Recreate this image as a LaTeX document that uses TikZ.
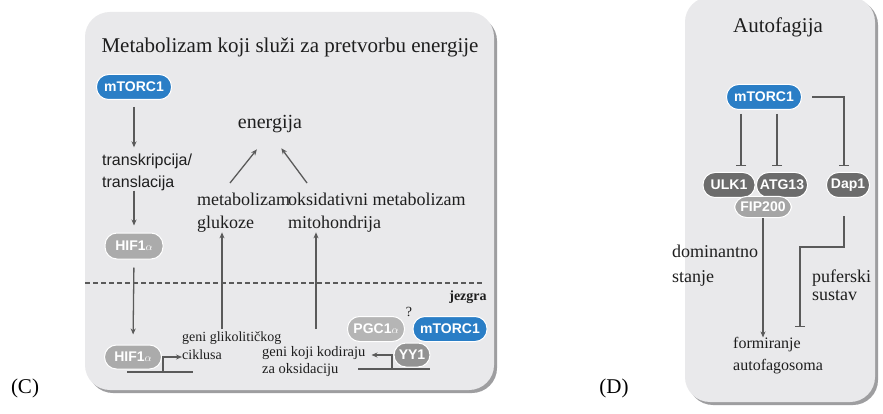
\documentclass[tikz,border=0pt]{standalone}
\usepackage{fontspec}
\setmainfont{Liberation Serif}
\newfontfamily\pillfont{Liberation Sans}
\newfontfamily\lblsans{Liberation Sans}
\usetikzlibrary{arrows.meta}
\definecolor{panelbg}{HTML}{E9E9EB}
\definecolor{shadowc}{HTML}{9E9EA0}
\definecolor{mblue}{HTML}{2A7EC6}
\definecolor{hifgray}{HTML}{ABABAB}
\definecolor{dkgray}{HTML}{6C6C6C}
\definecolor{fipgray}{HTML}{A5A5A5}
\definecolor{pgcgray}{HTML}{B5B5B5}
\definecolor{yygray}{HTML}{939393}
\definecolor{linec}{HTML}{5A5A5A}
\definecolor{textc}{HTML}{1E1E1E}
\begin{document}
\begin{tikzpicture}[x=1pt,y=-1pt,
  pill/.style={rectangle, rounded corners=12pt, minimum height=25pt, inner sep=0pt,
    text=white, font=\pillfont\bfseries\fontsize{14}{14}\selectfont, draw=white, line width=1pt},
  bluepill/.style={pill, fill=mblue},
  arr/.style={draw=linec, line width=1.3pt, -{Stealth[length=6pt,width=5pt]}},
  inh/.style={draw=linec, line width=1.3pt, -{Bar[width=10pt,line width=1.3pt]}},
  plain/.style={draw=linec, line width=1.3pt},
  lbl/.style={inner sep=0pt, text=textc, align=left},
  ttl/.style={inner sep=0pt, text=textc, font=\fontsize{21}{24}\selectfont},
  panel/.style={fill=panelbg, rounded corners=25pt},
  pshadow/.style={fill=shadowc, rounded corners=25pt}
]
\useasboundingbox (0,0) rectangle (883,414);
\fill[white] (0,0) rectangle (883,414);

% ---------- panel C ----------
\fill[pshadow] (88,16) rectangle (497,393);
\fill[panel] (85,12) rectangle (494,390);

\node[ttl] (tC) at (290,47) {Metabolizam koji služi za pretvorbu energije};

\node[bluepill, minimum width=75pt] (m1) at (134,87) {mTORC1};
\node[lbl, anchor=west, font=\lblsans\fontsize{16}{22}\selectfont] (tt) at (102,172) {transkripcija/\\translacija};
\node[pill, fill=hifgray, minimum width=58pt, minimum height=26pt] (h1) at (134,246) {HIF1{\fontsize{11}{11}\selectfont$\alpha$}};
\node[pill, fill=hifgray, minimum width=57pt, minimum height=24pt] (h2) at (133,357) {HIF1{\fontsize{11}{11}\selectfont$\alpha$}};

\draw[arr, shorten <=7pt, shorten >=6pt] (m1.south) -- (m1.south |- tt.north);
\draw[arr, shorten >=7pt] (m1.south |- tt.south) -- (h1.north);
\draw[arr, shorten <=8pt, shorten >=10pt] (h1.south) -- (h2.north);

\coordinate (dl) at (85,283);
\coordinate (dr) at (484,283);
\draw[draw=linec, line width=1.1pt, dash pattern=on 5pt off 3pt] (dl) -- (dr);

\node[lbl, font=\fontsize{20}{24}\selectfont] (en) at (270,124) {energija};
\node[lbl, anchor=west, font=\fontsize{18}{23}\selectfont] (gl) at (197,212.5) {metabolizam\\glukoze};
\node[lbl, anchor=west, font=\fontsize{18}{23}\selectfont] (ox) at (288,212.5) {oksidativni metabolizam\\mitohondrija};

\coordinate (e1s) at (230,183);
\coordinate (e2s) at (307,183);
\draw[arr, shorten >=21pt] (e1s) -- (en.south);
\draw[arr, shorten >=19pt] (e2s) -- (en.south);

\coordinate (g1s) at (222,329);
\coordinate (o1s) at (316,329);
\draw[arr] (g1s) -- (g1s |- gl.south);
\draw[arr] (o1s) -- (o1s |- ox.south);

% promoter HIF1a
\node[lbl, anchor=west, font=\fontsize{14}{18}\selectfont] (gk) at (182,346) {geni glikolitičkog\\ciklusa};
\coordinate (p1a) at (127,372);
\coordinate (p1b) at (193,372);
\coordinate (tss1) at (163,372);
\draw[plain] (p1a) -- (p1b);
\draw[arr, line width=1.1pt] (tss1) |- (gk.west |- h2);

% nucleus part
\node[lbl, font=\bfseries\fontsize{14}{16}\selectfont] (jz) at (468,297) {jezgra};
\node[lbl, font=\fontsize{14}{16}\selectfont] (qm) at (409,312) {?};
\node[pill, fill=pgcgray, minimum width=57pt] (pgc) at (376,329) {PGC1{\fontsize{11}{11}\selectfont$\alpha$}};
\node[bluepill, minimum width=74pt] (m3) at (450,329) {mTORC1};
\node[pill, fill=yygray, minimum width=36pt, minimum height=24pt] (yy) at (412,355) {YY1};
\node[lbl, anchor=west, font=\fontsize{14.5}{17}\selectfont] (gko) at (262,361.5) {geni koji kodiraju\\za oksidaciju};
\coordinate (p2a) at (358,369);
\coordinate (p2b) at (430,369);
\coordinate (tss2) at (392,369);
\draw[plain] (p2a) -- (p2b);
\draw[arr, line width=1.1pt, shorten >=6pt] (tss2) |- (gko.east |- yy);

\node[inner sep=0pt, font=\fontsize{21}{24}\selectfont] (lc) at (25,388) {(C)};
\node[inner sep=0pt, font=\fontsize{21}{24}\selectfont] (ld) at (614,388) {(D)};

% ---------- panel D ----------
\fill[pshadow] (688,0) rectangle (878,405);
\fill[panel] (685,-3) rectangle (875,402);

\node[ttl] (tD) at (778,27) {Autofagija};
\node[bluepill, minimum width=75pt] (m2) at (764,97) {mTORC1};
\node[pill, fill=dkgray, minimum width=52pt] (ulk) at (729,185) {ULK1};
\node[pill, fill=dkgray, minimum width=51pt] (atg) at (782,185) {ATG13};
\node[pill, fill=dkgray, minimum width=43pt] (dap) at (848,185) {Dap1};
\node[pill, fill=fipgray, minimum width=57pt, minimum height=21pt] (fip) at (763,207) {FIP200};

\coordinate (i1) at (741,0);
\coordinate (i2) at (777,0);
\coordinate (i3) at (844,0);
\draw[inh, shorten <=4pt, shorten >=6pt] (m2.south -| i1) -- (ulk.north -| i1);
\draw[inh, shorten <=4pt, shorten >=6pt] (m2.south -| i2) -- (atg.north -| i2);
\draw[inh, shorten <=10pt, shorten >=6pt] (m2.east) -| (dap.north -| i3);

\node[lbl, anchor=west, font=\fontsize{16}{22}\selectfont] (fo) at (733,356) {formiranje\\autofagosoma};
\node[lbl, anchor=west, font=\fontsize{18}{25}\selectfont] (dom) at (672,265.5) {dominantno\\stanje};
\node[lbl, anchor=west, font=\fontsize{18}{18}\selectfont] (puf) at (812,285) {puferski\\sustav};

\draw[arr] (fip.south) -- (fip.south |- fo.north);
\coordinate (j1) at (800,247);
\draw[inh, shorten <=18pt, shorten >=10pt] (dap.south -| i3) |- (j1) -- (j1 |- fo.north);
\end{tikzpicture}
\end{document}
